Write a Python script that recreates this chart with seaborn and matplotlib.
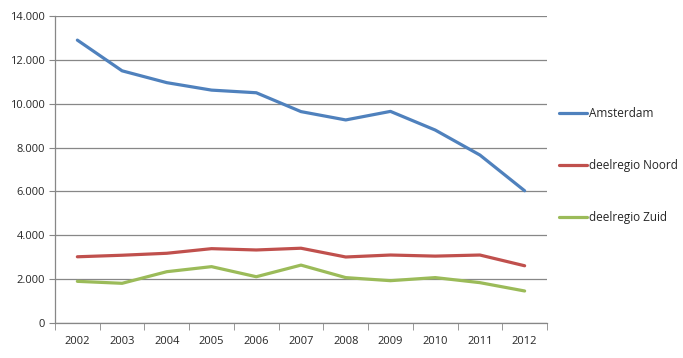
import matplotlib
matplotlib.use('Agg')
import matplotlib.pyplot as plt
import matplotlib.ticker as mticker
import seaborn as sns
import pandas as pd
import numpy as np

jaren = [2002, 2003, 2004, 2005, 2006, 2007, 2008, 2009, 2010, 2011, 2012]
amsterdam = [12900, 11500, 10960, 10620, 10500, 9640, 9260, 9650, 8800, 7660, 6030]
noord = [3020, 3090, 3180, 3390, 3330, 3410, 3010, 3100, 3050, 3100, 2610]
zuid = [1900, 1810, 2340, 2570, 2110, 2640, 2070, 1930, 2070, 1840, 1460]
reeksen = ['Amsterdam', 'deelregio Noord', 'deelregio Zuid']
kleuren = ['#4F81BD', '#C0504D', '#9BBB59']

df = pd.DataFrame({
    'jaar': jaren * 3,
    'aantal': amsterdam + noord + zuid,
    'reeks': [reeksen[0]] * 11 + [reeksen[1]] * 11 + [reeksen[2]] * 11,
})

sns.set_style('white')
plt.rcParams['font.family'] = ['Open Sans', 'DejaVu Sans']

fig = plt.figure(figsize=(6.83, 3.58), dpi=100)
ax = fig.add_axes([55 / 683, 35 / 358, 492 / 683, 307 / 358])

sns.lineplot(data=df, x='jaar', y='aantal', hue='reeks', palette=kleuren,
             linewidth=2.3, ax=ax, zorder=3)

ax.set_xlim(2001.5, 2012.5)
ax.set_ylim(0, 14000)
ax.set_yticks(np.arange(0, 14001, 2000))
ax.yaxis.set_major_formatter(mticker.FuncFormatter(lambda v, p: f'{int(v):,}'.replace(',', '.')))
ax.set_xticks(jaren)
ax.set_xticks(np.arange(2001.5, 2012.6, 1), minor=True)
ax.tick_params(axis='x', which='major', length=0, pad=9, labelsize=8)
ax.tick_params(axis='x', which='minor', length=5, color='#878787', direction='out', bottom=True)
ax.tick_params(axis='y', length=4, color='#878787', direction='out', left=True, labelsize=8, pad=3)
ax.grid(axis='y', color='#878787', linewidth=0.9, zorder=0)
ax.set_xlabel('')
ax.set_ylabel('')
for s in ['top', 'right']:
    ax.spines[s].set_visible(False)
for s in ['left', 'bottom']:
    ax.spines[s].set_color('#878787')
    ax.spines[s].set_linewidth(0.9)

ax.legend(loc='center left', bbox_to_anchor=(1.003, 0.513), frameon=False,
          fontsize=8.5, labelspacing=3.3, handlelength=2.4, handletextpad=0.1)

fig.savefig('out.png', dpi=100)
